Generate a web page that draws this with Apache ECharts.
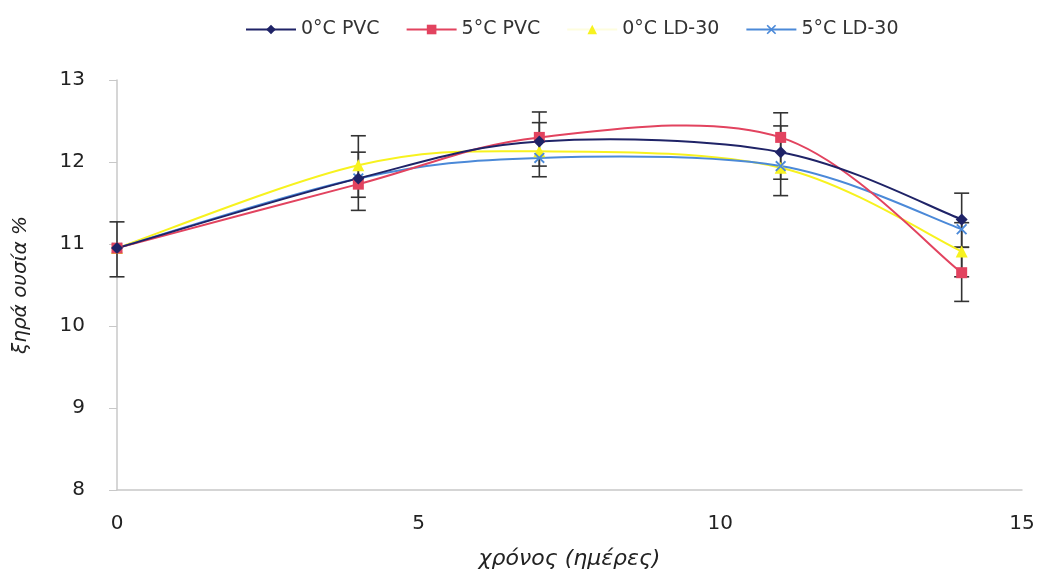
<!DOCTYPE html>
<html><head><meta charset="utf-8">
<script src="https://cdn.jsdelivr.net/npm/echarts@6/dist/echarts.min.js"></script>
<style>html,body{margin:0;padding:0;background:#fff}#c{width:1045px;height:576px}</style>
</head><body><div id="c"></div>
<script>
const days = [0, 4, 7, 11, 14];
const pvc0 = [10.95, 11.80, 12.25, 12.12, 11.30];
const pvc5 = [10.95, 11.73, 12.30, 12.30, 10.65];
const ld0  = [10.95, 11.96, 12.13, 11.93, 10.91];
const ld5  = [10.95, 11.80, 12.05, 11.95, 11.18];
const errX    = [0,     4,     4,     7,     7,     11,    11,    14,    14,    14];
const errLow  = [10.60, 11.41, 11.57, 11.82, 11.95, 11.59, 11.79, 10.30, 10.60, 10.96];
const errHigh = [11.27, 12.32, 12.12, 12.61, 12.48, 12.60, 12.44, 11.62, 10.96, 11.26];
const seriesNames = ['0°C PVC', '5°C PVC', '0°C LD-30', '5°C LD-30'];
const yTicks = [8, 9, 10, 11, 12, 13];

const colors = {pvc0: '#1f2367', pvc5: '#e2435f', ld0: '#f7f21f', ld5: '#4b89d8'};
const xMark = 'path://M0,1.2L1.2,0L5,3.8L8.8,0L10,1.2L6.2,5L10,8.8L8.8,10L5,6.2L1.2,10L0,8.8L3.8,5Z';
const pairs = arr => days.map((d, i) => [d, arr[i]]);
const chart = echarts.init(document.getElementById('c'));
const font = 'DejaVu Sans, Verdana, sans-serif';

// Smooth curve (Catmull-Rom style, as in spreadsheet smoothed lines) through the data points
function curve(arr, color, z) {
  return {type: 'custom', name: '_curve', silent: true, z,
    data: pairs(arr), encode: {x: 0, y: 1},
    renderItem: (params, api) => {
      const i = params.dataIndex, n = days.length;
      if (i >= n - 1) return null;
      const P = k => api.coord([days[Math.max(0, Math.min(n - 1, k))], arr[Math.max(0, Math.min(n - 1, k))]]);
      const p0 = P(i - 1), p1 = P(i), p2 = P(i + 1), p3 = P(i + 2);
      return {type: 'bezierCurve', shape: {
          x1: p1[0], y1: p1[1], x2: p2[0], y2: p2[1],
          cpx1: p1[0] + (p2[0] - p0[0]) / 6, cpy1: p1[1] + (p2[1] - p0[1]) / 6,
          cpx2: p2[0] - (p3[0] - p1[0]) / 6, cpy2: p2[1] - (p3[1] - p1[1]) / 6},
        style: {stroke: color, lineWidth: 2, fill: null}};
    }};
}
function marks(name, arr, color, symbol, size, z) {
  return {name, type: 'line', data: pairs(arr), symbol, symbolSize: size,
    lineStyle: {opacity: 0}, itemStyle: {color}, z};
}
chart.setOption({
  animation: false,
  backgroundColor: '#fff',
  legend: {top: 15, left: 240, itemWidth: 50, itemHeight: 12, itemGap: 26,
    textStyle: {fontFamily: font, fontSize: 19, color: '#333'},
    data: [
      {name: seriesNames[0], lineStyle: {opacity: 1, color: colors.pvc0, width: 2}},
      {name: seriesNames[1], lineStyle: {opacity: 1, color: colors.pvc5, width: 2}},
      {name: seriesNames[2], lineStyle: {opacity: 0.15, color: colors.ld0, width: 2}},
      {name: seriesNames[3], lineStyle: {opacity: 1, color: colors.ld5, width: 2}}
    ]},
  grid: {left: 117, right: 23, top: 80, bottom: 86},
  xAxis: {type: 'value', min: 0, max: 15, interval: 5,
    name: 'χρόνος (ημέρες)', nameLocation: 'middle', nameGap: 58,
    nameTextStyle: {fontFamily: font, fontSize: 22, fontStyle: 'italic', color: '#222'},
    axisLine: {lineStyle: {color: '#c8c8c8', width: 1.5}},
    axisTick: {show: false}, splitLine: {show: false},
    axisLabel: {fontFamily: font, fontSize: 20, color: '#222', margin: 24}},
  yAxis: {type: 'value', min: 8, max: 13, interval: 1,
    name: 'ξηρά ουσία %', nameLocation: 'middle', nameGap: 86, nameRotate: 90,
    nameTextStyle: {fontFamily: font, fontSize: 20, fontStyle: 'italic', color: '#222'},
    axisLine: {show: true, lineStyle: {color: '#c8c8c8', width: 1.5}},
    axisTick: {show: true, inside: false, length: 8, lineStyle: {color: '#c8c8c8'}},
    splitLine: {show: false},
    axisLabel: {fontFamily: font, fontSize: 20, color: '#222', margin: 32,
      formatter: v => yTicks.includes(v) ? String(v) : ''}},
  series: [
    {type: 'custom', name: '_err', z: 2, silent: true,
      data: errX.map((x, i) => [x, errLow[i], errHigh[i]]),
      encode: {x: 0, y: [1, 2]},
      renderItem: (params, api) => {
        const lo = api.coord([api.value(0), api.value(1)]);
        const hi = api.coord([api.value(0), api.value(2)]);
        const w = 7.5;
        const st = {stroke: '#333', lineWidth: 1.6};
        return {type: 'group', children: [
          {type: 'line', shape: {x1: lo[0], y1: lo[1], x2: hi[0], y2: hi[1]}, style: st},
          {type: 'line', shape: {x1: lo[0]-w, y1: lo[1], x2: lo[0]+w, y2: lo[1]}, style: st},
          {type: 'line', shape: {x1: hi[0]-w, y1: hi[1], x2: hi[0]+w, y2: hi[1]}, style: st}
        ]};
      }},
    curve(ld0, colors.ld0, 3),
    curve(ld5, colors.ld5, 4),
    curve(pvc5, colors.pvc5, 5),
    curve(pvc0, colors.pvc0, 6),
    marks(seriesNames[2], ld0, colors.ld0, 'triangle', 12, 7),
    marks(seriesNames[3], ld5, colors.ld5, xMark, 11, 8),
    marks(seriesNames[1], pvc5, colors.pvc5, 'rect', 11, 9),
    marks(seriesNames[0], pvc0, colors.pvc0, 'diamond', 12, 10)
  ]
});
</script></body></html>
